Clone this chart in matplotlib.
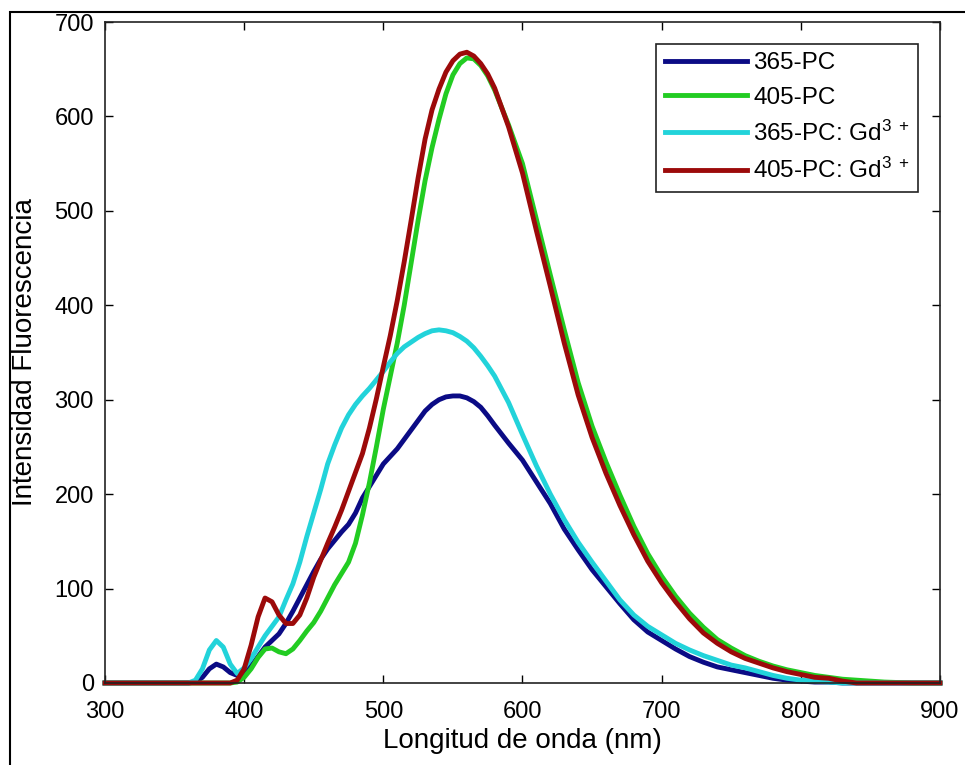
import matplotlib
matplotlib.use("Agg")
import matplotlib.pyplot as plt
from matplotlib.patches import Rectangle

plt.rcParams['font.family'] = ['Liberation Sans', 'DejaVu Sans']
plt.rcParams['mathtext.fontset'] = 'custom'
plt.rcParams['mathtext.rm'] = 'Liberation Sans'
plt.rcParams['mathtext.it'] = 'Liberation Sans'

# wavelength (nm)
wl = [300, 350, 360, 365, 370, 375, 380, 385, 390, 395,
      400, 405, 410, 415, 420, 425, 430, 435, 440, 445,
      450, 455, 460, 465, 470, 475, 480, 485, 490, 495,
      500, 505, 510, 515, 520, 525, 530, 535, 540, 545,
      550, 555, 560, 565, 570, 575, 580, 590, 600, 610,
      620, 630, 640, 650, 660, 670, 680, 690, 700, 710,
      720, 730, 740, 750, 760, 770, 780, 790, 800, 810,
      820, 830, 840, 860, 880, 900]

pc365 = [0, 0, 0, 1, 6, 15, 20, 17, 11, 8,
         10, 18, 28, 38, 45, 52, 63, 76, 90, 104,
         118, 131, 142, 151, 160, 168, 180, 196, 208, 220,
         232, 240, 248, 258, 268, 278, 288, 295, 300, 303,
         304, 304, 302, 298, 292, 283, 273, 254, 236, 213,
         190, 163, 141, 120, 102, 84, 67, 54, 45, 36,
         28, 22, 17, 14, 11, 8, 5, 3, 2, 1,
         1, 0, 0, 0, 0, 0]

pc405 = [0, 0, 0, 0, 0, 0, 0, 0, 0, 1,
         6, 15, 27, 36, 37, 33, 31, 36, 45, 55,
         64, 76, 90, 104, 116, 128, 148, 178, 212, 250,
         290, 325, 360, 400, 445, 490, 532, 567, 597, 624,
         644, 656, 662, 661, 654, 643, 628, 591, 550, 491,
         432, 374, 318, 272, 234, 199, 166, 137, 113, 92,
         74, 59, 46, 37, 29, 23, 18, 14, 11, 8,
         6, 4, 3, 1, 0, 0]

pc365_gd = [0, 0, 0, 3, 15, 35, 45, 38, 20, 10,
            16, 26, 38, 50, 60, 70, 88, 105, 128, 155,
            180, 205, 232, 252, 270, 284, 295, 304, 312, 321,
            330, 340, 349, 356, 361, 366, 370, 373, 374, 373,
            371, 367, 362, 355, 346, 336, 325, 297, 263, 230,
            200, 173, 149, 128, 108, 88, 72, 60, 51, 42,
            35, 29, 24, 19, 16, 12, 8, 5, 3, 2,
            1, 0, 0, 0, 0, 0]

pc405_gd = [0, 0, 0, 0, 0, 0, 0, 0, 0, 3,
            15, 40, 70, 90, 86, 72, 63, 63, 72, 90,
            112, 130, 148, 165, 183, 203, 223, 243, 270, 301,
            335, 368, 405, 446, 490, 535, 576, 607, 629, 647,
            659, 666, 668, 664, 656, 645, 630, 589, 540, 479,
            420, 360, 305, 260, 222, 188, 157, 129, 106, 86,
            68, 53, 42, 33, 26, 21, 16, 12, 9, 6,
            5, 2, 0, 0, 0, 0]

labels = ['365-PC', '405-PC', r'365-PC: Gd$^{3\ +}$', r'405-PC: Gd$^{3\ +}$']
colors = ['#0b0b85', '#22cc22', '#22d3da', '#9c0a0a']
series = [pc365, pc405, pc365_gd, pc405_gd]

fig = plt.figure(figsize=(9.65, 7.65), dpi=100)
ax = fig.add_axes([0.1088, 0.1072, 0.8653, 0.864])

for y, c, lab in zip(series, colors, labels):
    ax.plot(wl, y, color=c, lw=3.5, label=lab, clip_on=False,
            solid_joinstyle='round')

ax.set_xlim(300, 900)
ax.set_ylim(0, 700)
ax.set_xticks(range(300, 901, 100))
ax.set_yticks(range(0, 701, 100))
ax.tick_params(direction='in', top=True, right=True, length=6, width=1,
               labelsize=17)
ax.tick_params(axis='x', pad=13)
ax.tick_params(axis='y', pad=8)
for s in ax.spines.values():
    s.set_linewidth(1.2)
    s.set_color('#222222')

ax.set_xlabel('Longitud de onda (nm)', fontsize=20)
ax.set_ylabel('Intensidad Fluorescencia', fontsize=20)
ax.xaxis.set_label_coords(0.5, -0.068)
ax.yaxis.set_label_coords(-0.080, 0.5)

leg = ax.legend(loc='upper right', bbox_to_anchor=(0.974, 0.967),
                borderaxespad=0, fontsize=17.5, fancybox=False,
                framealpha=1, edgecolor='#222222', handlelength=3.4,
                handletextpad=0.25, labelspacing=0.5, borderpad=0.35)
leg.get_frame().set_linewidth(1.2)

# outer figure frame
fig.add_artist(Rectangle((10 / 965, -0.2), 1.5, 0.2 + 753 / 765,
                         transform=fig.transFigure, fill=False,
                         lw=1.5, edgecolor='black'))

fig.savefig('out.png', dpi=100)
